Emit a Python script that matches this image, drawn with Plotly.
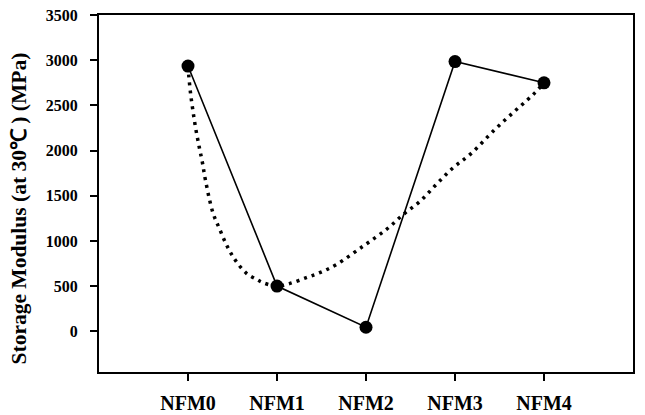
import plotly.graph_objects as go

categories = ["NFM0", "NFM1", "NFM2", "NFM3", "NFM4"]
cat_pos = [0, 1, 2, 3, 4]
modulus = [2935, 501, 45, 2985, 2750]

# dotted trend curve
fit_x = [0, 0.01, 0.03, 0.056, 0.087, 0.124, 0.162, 0.196, 0.28, 0.357, 0.439, 0.533,
         0.657, 0.77, 0.84, 1.0, 1.14, 1.33, 1.48, 1.67, 1.97, 2.23, 2.42, 2.61,
         2.79, 2.98, 3.17, 3.45, 3.66, 3.81, 3.90, 4.0]
fit_y = [2930, 2815, 2622, 2437, 2242, 2050, 1866, 1674, 1313, 1128, 944, 785,
         642, 575, 539, 500, 528, 594, 649, 741, 944, 1128, 1294, 1441,
         1626, 1811, 1958, 2235, 2426, 2558, 2641, 2750]

y_ticks = [0, 500, 1000, 1500, 2000, 2500, 3000, 3500]
y_title = "Storage Modulus (at 30℃ ) (MPa)"

font_family = "Liberation Serif"

fig = go.Figure()
fig.add_trace(go.Scatter(
    x=fit_x, y=fit_y, mode="lines",
    line=dict(color="black", width=3.5, dash="3px,5px", shape="spline"),
    showlegend=False, hoverinfo="skip"))
fig.add_trace(go.Scatter(
    x=cat_pos, y=modulus, mode="lines+markers",
    line=dict(color="black", width=1.6),
    marker=dict(color="black", size=13),
    showlegend=False))

# the page body adds an 8px offset, so the figure is 8px smaller
fig.update_layout(
    width=637, height=407,
    margin=dict(l=91, r=12, t=7, b=43),
    paper_bgcolor="white", plot_bgcolor="white",
    font=dict(family=font_family, color="black"),
    xaxis=dict(
        range=[-1, 5], tickvals=cat_pos, ticktext=categories,
        showgrid=False, zeroline=False, automargin=False,
        showline=True, linecolor="black", linewidth=2, mirror=True,
        ticks="outside", ticklen=7, tickwidth=1.5, tickcolor="black",
        ticklabelstandoff=5, ticklabeloverflow="allow",
        tickfont=dict(family=font_family, size=20, color="black", weight="bold")),
    yaxis=dict(
        range=[-450, 3500], tickvals=y_ticks,
        showgrid=False, zeroline=False, automargin=False,
        showline=True, linecolor="black", linewidth=2, mirror=True,
        ticks="outside", ticklen=7, tickwidth=1.5, tickcolor="black",
        ticklabelstandoff=9, ticklabeloverflow="allow",
        tickfont=dict(family=font_family, size=16, color="black", weight="bold")),
    annotations=[dict(
        text=y_title, xref="paper", yref="paper", x=-0.148, y=0.458,
        xanchor="center", yanchor="middle", textangle=-90, showarrow=False,
        font=dict(family=font_family, size=21.5, color="black", weight="bold"))],
)

fig.write_html("out.html")
